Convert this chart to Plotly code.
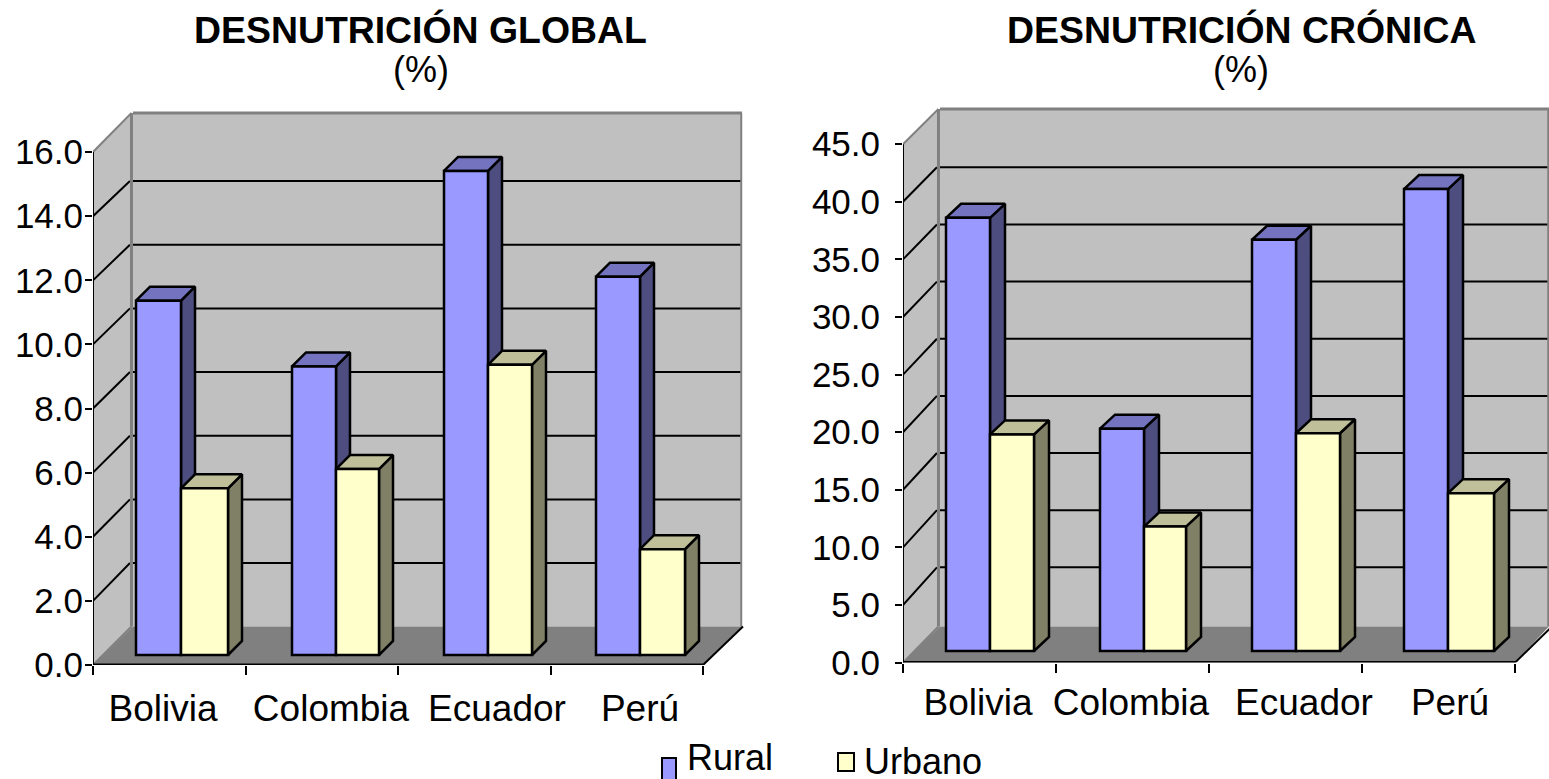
import plotly.graph_objects as go

# ---- data ----
categories = ["Bolivia", "Colombia", "Ecuador", "Perú"]
global_rural = [11.05, 9.0, 15.1, 11.8]
global_urbano = [5.2, 5.8, 9.05, 3.3]
cronica_rural = [37.6, 19.3, 35.7, 40.1]
cronica_urbano = [18.8, 10.8, 18.9, 13.7]
global_ticks = [0, 2, 4, 6, 8, 10, 12, 14, 16]
cronica_ticks = [0, 5, 10, 15, 20, 25, 30, 35, 40, 45]

# ---- styles ----
FONT = "Liberation Sans"
FS_Y, FS_X, FS_TITLE, FS_TEXT = 35, 37, 37.4, 36
RURAL = dict(front="#9999FF", side="#4D4D80", top="#7373BF")
URBANO = dict(front="#FFFFCC", side="#808066", top="#BFBF99")
WALL, FLOOR, EDGE = "#C0C0C0", "#808080", "#808080"
W, H = 1549, 779

# panel geometry, all in pixels of the page
left_panel = dict(
    xa="x", ya="y", x0=93, x1=744, y0=665, ytop=108, cat_px=152.5, val_px=32.06,
    base_px=655, back_x=133, floor_y=626.5, back_y0=626.7, back_val_px=31.83, wall_top=113,
    dx_px=14, dy_px=14,
    rural_left=[136, 292, 444, 596], urbano_left=[181, 336, 488, 640],
    rural_w=[45, 44, 44, 44], urbano_w=[47, 43, 44, 45],
    label_x=[163, 331, 497, 640], standoff=18, ystandoff=-5, ticks=global_ticks,
    rural=global_rural, urbano=global_urbano,
)
right_panel = dict(
    xa="x2", ya="y2", x0=903, x1=1549, y0=662.6, ytop=104, cat_px=153, val_px=11.52,
    base_px=651, back_x=940, floor_y=626.5, back_y0=624.5, back_val_px=11.43, wall_top=109,
    dx_px=15, dy_px=14,
    rural_left=[946, 1100, 1252, 1404], urbano_left=[990, 1144, 1296, 1448],
    rural_w=[44, 44, 44, 44], urbano_w=[44, 42, 44, 46],
    label_x=[978, 1131, 1304, 1450], standoff=14, ystandoff=8, ticks=cronica_ticks,
    rural=cronica_rural, urbano=cronica_urbano,
)

fig = go.Figure()
shapes = []


def poly(xa, ya, xs, ys, color, lw=2.5, zorder=0):
    fig.add_trace(go.Scatter(x=xs + xs[:1], y=ys + ys[:1], xaxis=xa, yaxis=ya, mode="lines",
                             fill="toself", fillcolor=color, line=dict(color="black", width=lw),
                             hoverinfo="skip", showlegend=False, zorder=zorder))


def draw_panel(p):
    xa, ya = p["xa"], p["ya"]
    X = lambda px: (px - p["x0"]) / p["cat_px"]
    Y = lambda px: (p["y0"] - px) / p["val_px"]
    ref = dict(xref=xa, yref=ya, layer="below")
    backx, endx = X(p["back_x"]), X(p["x1"] - 2 if p["x1"] == 744 else p["x1"])
    front_end = len(categories)
    yfloor, ytop = Y(p["floor_y"]), Y(p["wall_top"])
    top_v = p["ticks"][-1]

    def rect(xs, ys, fill):
        path = "M " + " L ".join(f"{a},{b}" for a, b in zip(xs, ys)) + " Z"
        shapes.append(dict(type="path", path=path, fillcolor=fill, line=dict(color=fill, width=0), **ref))

    def seg(x0, y0, x1, y1, color="black", w=2):
        shapes.append(dict(type="line", x0=x0, y0=y0, x1=x1, y1=y1, line=dict(color=color, width=w), **ref))

    # walls and floor
    rect([backx, endx, endx, backx], [yfloor, yfloor, ytop, ytop], WALL)
    rect([0, backx, backx, 0], [0, yfloor, ytop, top_v], WALL)
    rect([0, backx, endx, front_end], [0, yfloor, yfloor, 0], FLOOR)
    # gridlines
    for v in p["ticks"][1:]:
        by = Y(p["back_y0"] - v * p["back_val_px"])
        if v != top_v:
            seg(backx, by, endx, by)
            seg(0, v, backx - 0.02, by)
    # wall edges
    seg(backx - 0.01, yfloor, backx - 0.01, ytop, EDGE, 3)
    seg(backx, ytop, endx, ytop, EDGE, 3)
    seg(endx - 0.005, yfloor, endx - 0.005, ytop, EDGE, 2)
    seg(0, top_v, backx - 0.01, ytop, EDGE, 2)
    seg(0, 0, backx - 0.01, yfloor, EDGE, 2)
    seg(front_end, 0, backx + front_end, yfloor, "black", 2)

    # bars
    base = Y(p["base_px"])
    ddx, ddy = p["dx_px"] / p["cat_px"], p["dy_px"] / p["val_px"]
    for series, vals, lefts, widths, style in (("Rural", p["rural"], p["rural_left"], p["rural_w"], RURAL),
                                               ("Urbano", p["urbano"], p["urbano_left"], p["urbano_w"], URBANO)):
        xc, xw = [], []
        for v, l, w in zip(vals, lefts, widths):
            xl, xr = X(l), X(l + w)
            xc.append((xl + xr) / 2)
            xw.append(xr - xl)
            poly(xa, ya, [xr, xr + ddx, xr + ddx, xr],
                 [base, base + ddy, base + v + ddy, base + v], style["side"])
            poly(xa, ya, [xl, xl + ddx, xr + ddx, xr],
                 [base + v, base + v + ddy, base + v + ddy, base + v], style["top"])
        fig.add_trace(go.Bar(x=xc, y=vals, base=base, width=xw, name=series, xaxis=xa, yaxis=ya,
                             marker=dict(color=style["front"], line=dict(color="black", width=2.5)),
                             showlegend=False, zorder=2))
    # axis lines
    for xs, ys, lw in (([0, 0], [0, top_v], 2), ([0, front_end], [0, 0], 3)):
        fig.add_trace(go.Scatter(x=xs, y=ys, xaxis=xa, yaxis=ya, mode="lines", cliponaxis=False,
                                 line=dict(color="black", width=lw), hoverinfo="skip",
                                 showlegend=False, zorder=3))

    dom_x = [p["x0"] / W, p["x1"] / W]
    dom_y = [1 - p["y0"] / H, 1 - p["ytop"] / H]
    xkey, ykey = "xaxis" + xa[1:], "yaxis" + ya[1:]
    fig.layout[xkey] = dict(
        domain=dom_x, range=[0, X(p["x1"])], anchor=ya, showgrid=False, zeroline=False, showline=False,
        automargin=False,
        tickmode="array", tickvals=[X(px) for px in p["label_x"]], ticktext=categories, ticks="",
        ticklabelstandoff=p["standoff"], tickfont=dict(family=FONT, size=FS_X, color="black"),
        minor=dict(tickmode="array", tickvals=list(range(front_end + 1)), ticks="outside", ticklen=9,
                   tickwidth=2, tickcolor="black", showgrid=False),
    )
    fig.layout[ykey] = dict(
        domain=dom_y, range=[0, Y(p["ytop"])], anchor=xa, showgrid=False, zeroline=False, showline=False,
        automargin=False,
        tickmode="array", tickvals=p["ticks"], ticktext=[f"{t:.1f}" for t in p["ticks"]],
        ticks="outside", ticklen=7, tickwidth=2, tickcolor="black", ticklabelstandoff=p["ystandoff"],
        tickfont=dict(family=FONT, size=FS_Y, color="black"),
    )


draw_panel(left_panel)
draw_panel(right_panel)


def text(s, x, y, bold=False):
    return dict(text=f"<b>{s}</b>" if bold else s, x=x / W, y=1 - y / H, xref="paper", yref="paper",
                xanchor="center", yanchor="middle", showarrow=False,
                font=dict(family=FONT, size=FS_TITLE if bold else FS_TEXT, color="black"))


annotations = [
    text("DESNUTRICIÓN GLOBAL", 420, 30, True), text("(%)", 421, 69),
    text("DESNUTRICIÓN CRÓNICA", 1241, 30, True), text("(%)", 1241, 69),
    text("Rural", 730, 757), text("Urbano", 923, 761),
]
for x0, y0, x1, y1, c in ((662, 758, 676, 780, RURAL["front"]), (838, 753, 854, 771, URBANO["front"])):
    shapes.append(dict(type="rect", xref="paper", yref="paper", x0=x0 / W, x1=x1 / W,
                       y0=1 - y1 / H, y1=1 - y0 / H, fillcolor=c, line=dict(color="black", width=2)))

fig.update_layout(width=W, height=H, margin=dict(l=0, r=0, t=0, b=0, autoexpand=False), autosize=False,
                  paper_bgcolor="white", plot_bgcolor="white", barmode="overlay",
                  shapes=shapes, annotations=annotations, showlegend=False,
                  font=dict(family=FONT, color="black"))
fig.write_html("out.html", post_script="document.body.style.margin='0';", config=dict(displayModeBar=False))
